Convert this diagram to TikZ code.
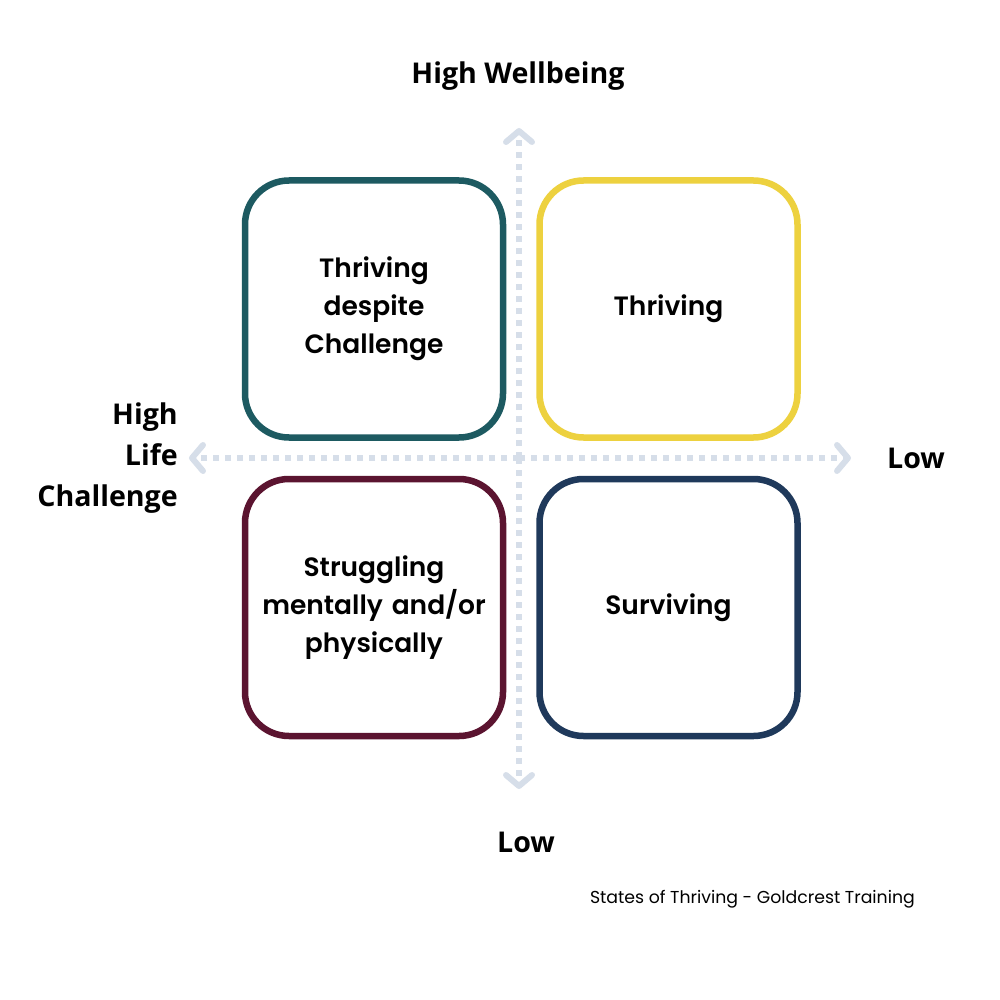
\documentclass[tikz,border=0pt]{standalone}
\usepackage{fontspec}
\setmainfont{Open Sans}
\newfontfamily\boxfont{Poppins SemiBold}
\newfontfamily\footfont{Poppins}
\usetikzlibrary{arrows.meta}
\definecolor{cteal}{HTML}{1D5A61}
\definecolor{cyellow}{HTML}{EDD13F}
\definecolor{cmaroon}{HTML}{5B1430}
\definecolor{cnavy}{HTML}{1F395B}
\definecolor{caxis}{HTML}{D6DEE9}
\tikzset{
  quad/.style={draw=#1, line width=6.5pt, rounded corners=44pt, minimum width=258pt, minimum height=257pt, inner sep=0pt, fill=white, font=\boxfont\fontsize{26.5}{38}\selectfont, align=center, text width=240pt},
  axislabel/.style={font=\bfseries\fontsize{28.6}{41}\selectfont, inner sep=0pt},
  axisline/.style={draw=caxis, line width=6pt, dash pattern=on 6pt off 6pt, -{Straight Barb[round, length=11pt, width=26pt, line width=6pt]}},
}
\begin{document}
\begin{tikzpicture}[x=1pt,y=-1pt]
\useasboundingbox (0,0) rectangle (1000,1000);
\coordinate (c) at (519,458);
\coordinate (top) at (519,128);
\coordinate (bot) at (519,789);
\coordinate (lft) at (189,458);
\coordinate (rgt) at (851,458);
\draw[axisline] (c) -- (top);
\draw[axisline] (c) -- (bot);
\draw[axisline] (c) -- (lft);
\draw[axisline] (c) -- (rgt);
\node[quad=cteal] (tl) at (374,309) {\raisebox{-2pt}{}Thriving\\despite\\Challenge};
\node[quad=cyellow] (tr) at (668.5,309) {Thriving};
\node[quad=cmaroon] (bl) at (374,607.5) {Struggling\\mentally and/or\\physically};
\node[quad=cnavy] (br) at (668.5,607.5) {Surviving};
\node[axislabel] (hw) at (518,76) {High Wellbeing};
\node[axislabel] (lw) at (526,842) {Low};
\node[axislabel] (lc) at (916,458) {Low};
\node[axislabel, align=right, anchor=east] (hc) at (178,458) {High\\Life\\Challenge};
\node[font=\footfont\fontsize{17.3}{20}\selectfont, inner sep=0pt, anchor=east] (ft) at (915,899) {States of Thriving - Goldcrest Training};
\end{tikzpicture}
\end{document}
